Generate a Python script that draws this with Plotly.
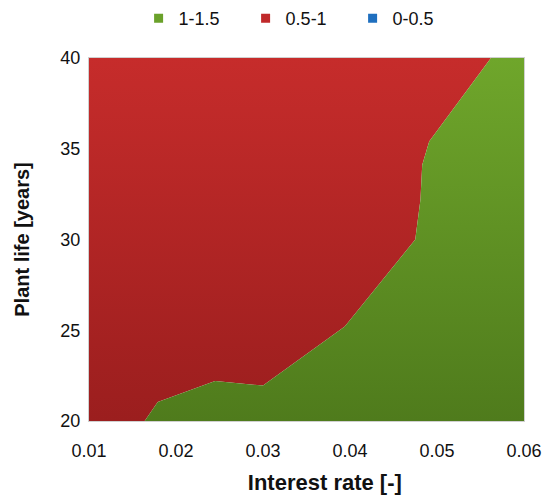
import plotly.graph_objects as go

# ---- data ----
rate_range = [0.01, 0.06]          # interest rate axis extent
life_range = [20, 40]              # plant life axis extent
# boundary between the 1-1.5 band (lower right) and the 0.5-1 band (upper left)
boundary_rate = [0.0164, 0.0179, 0.0245, 0.0300, 0.0394, 0.0475, 0.0481, 0.0483, 0.0491, 0.0562]
boundary_life = [20.0, 21.05, 22.2, 21.95, 25.2, 30.0, 32.2, 34.1, 35.4, 40.0]
band_labels = ["1-1.5", "0.5-1", "0-0.5"]
band_colors = ["#6aa12a", "#c0292a", "#1f6fbf"]
x_ticks = [0.01, 0.02, 0.03, 0.04, 0.05, 0.06]
y_ticks = [20, 25, 30, 35, 40]

FONT = "Liberation Sans, Arial, sans-serif"

# polygons built from the boundary and axis extents
red_x = [rate_range[0]] + boundary_rate + [rate_range[0]]
red_y = [life_range[0]] + boundary_life + [life_range[1]]
green_x = boundary_rate + [rate_range[1], rate_range[1]]
green_y = boundary_life + [life_range[1], life_range[0]]

fig = go.Figure()

fig.add_trace(go.Scatter(
    x=red_x, y=red_y, mode="lines", fill="toself",
    line=dict(width=0, color="rgba(0,0,0,0)"),
    fillgradient=dict(type="vertical",
                      colorscale=[[0, "#9b1e1e"], [1, "#c62c2b"]]),
    showlegend=False, hoverinfo="skip"))

fig.add_trace(go.Scatter(
    x=green_x, y=green_y, mode="lines", fill="toself",
    line=dict(width=0, color="rgba(0,0,0,0)"),
    fillgradient=dict(type="vertical",
                      colorscale=[[0, "#4f7b1c"], [1, "#6fa62b"]]),
    showlegend=False, hoverinfo="skip"))

# legend entries
for lab, col in zip(band_labels, band_colors):
    fig.add_trace(go.Scatter(
        x=[None], y=[None], mode="markers", name=lab,
        marker=dict(symbol="square", size=9, color=col)))

fig.update_layout(
    width=544, height=497,
    margin=dict(l=89, r=20, t=58, b=76, autoexpand=False),
    paper_bgcolor="white", plot_bgcolor="white",
    font=dict(family=FONT, size=18, color="#111111"),
    legend=dict(orientation="h", x=0.483, xanchor="center",
                y=1.0, yanchor="top", yref="container",
                font=dict(size=18),
                entrywidth=62, itemwidth=30,
                bgcolor="rgba(0,0,0,0)"),
    showlegend=True,
)

fig.update_xaxes(
    range=rate_range, tickvals=x_ticks, tickformat=".2f",
    showgrid=False, zeroline=False, automargin=False,
    ticks="outside", ticklen=13, tickcolor="rgba(0,0,0,0)",
    showline=True, linecolor="#d0d0d0", linewidth=1, mirror=True,
    title=dict(text="&nbsp;" * 6 + "<b>Interest rate [-]</b>",
               font=dict(size=22), standoff=15),
)
fig.update_yaxes(
    range=life_range, tickvals=y_ticks,
    showgrid=False, zeroline=False, automargin=False,
    ticks="outside", ticklen=4, tickcolor="rgba(0,0,0,0)",
    showline=True, linecolor="#d0d0d0", linewidth=1, mirror=True,
    title=dict(text="<b>Plant life [years]</b>", font=dict(size=20), standoff=25),
)

fig.write_html(
    "out.html",
    config={"displayModeBar": False},
    post_script="document.body.style.margin='0';document.body.style.padding='0';",
)
